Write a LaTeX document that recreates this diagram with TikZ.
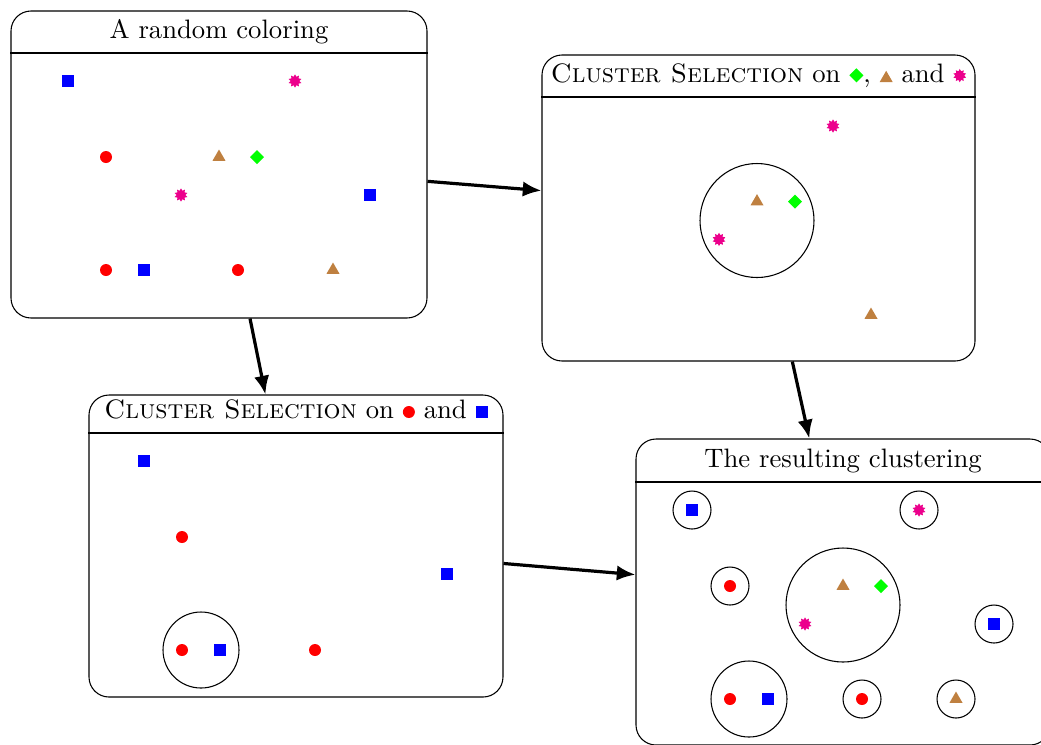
\documentclass[tikz,border=0pt]{standalone}
\usepackage{fontspec}
\setmainfont{lmroman10-regular.otf}[SmallCapsFont=lmromancaps10-regular.otf]
\usetikzlibrary{shapes.geometric,arrows.meta}
\definecolor{mkpink}{RGB}{236,0,140}
\definecolor{mkbrown}{RGB}{191,128,64}
\definecolor{mkgreen}{RGB}{0,255,0}
\tikzset{
 mk/.style={inner sep=0pt,outer sep=0pt,draw=none,anchor=center},
 dotR/.style={mk,circle,fill=red,minimum size=9pt},
 sqB/.style={mk,rectangle,fill=blue,minimum size=9pt},
 dmG/.style={mk,diamond,fill=mkgreen,minimum size=10.5pt},
 trB/.style={mk,regular polygon,regular polygon sides=3,fill=mkbrown,minimum size=11.25pt},
 stP/.style={mk,star,star points=10,star point ratio=1.5,fill=mkpink,minimum size=10pt},
 grp/.style={circle,draw,line width=0.8pt,inner sep=0pt,minimum size=#1},
 panel/.style={draw,line width=0.8pt,rounded corners=15pt,inner sep=0pt},
 ttl/.style={anchor=base,inner sep=0pt,font=\fontsize{20}{24}\selectfont},
 sepline/.style={line width=0.8pt},
 flow/.style={line width=2.4pt,-{Latex[length=14pt,width=11.5pt]}},
}
\newcommand{\icR}{\tikz[baseline=-4.5pt]\node[dotR]{};}
\newcommand{\icB}{\tikz[baseline=-4.5pt]\node[sqB]{};}
\newcommand{\icG}{\tikz[baseline=-5pt]\node[dmG]{};}
\newcommand{\icT}{\tikz[baseline=-2.8pt]\node[trB]{};}
\newcommand{\icS}{\tikz[baseline=-4.8pt]\node[stP]{};}
\begin{document}
\begin{tikzpicture}[x=0.75pt,y=-0.75pt]
\useasboundingbox (0,0) rectangle (1041,744);
% panels
\node[panel,minimum width=312pt,minimum height=230.25pt] (b1) at (219,164.5) {};
\node[panel,minimum width=324.75pt,minimum height=229.5pt] (b2) at (758.5,208) {};
\node[panel,minimum width=310.5pt,minimum height=226.5pt] (b3) at (296,546) {};
\node[panel,minimum width=310.5pt,minimum height=229.5pt] (b4) at (843,592) {};
% separators
\draw[sepline] (b1.west |- 0,53) -- (b1.east |- 0,53);
\draw[sepline] (b2.west |- 0,97) -- (b2.east |- 0,97);
\draw[sepline] (b3.west |- 0,433) -- (b3.east |- 0,433);
\draw[sepline] (b4.west |- 0,482) -- (b4.east |- 0,482);
% titles
\node[ttl] (t1) at (219,38) {A random coloring};
\node[ttl] (t2) at (758.5,82) {\textsc{Cluster Selection} on \icG, \icT{} and \icS};
\node[ttl] (t3) at (296,418) {\textsc{Cluster Selection} on \icR{} and \icB};
\node[ttl] (t4) at (843,467) {The resulting clustering};
% panel 1 markers
\node[sqB] (a1) at (68,81) {};
\node[stP] (a2) at (295,81) {};
\node[dotR] (a3) at (106,157) {};
\node[trB] (a4) at (219,157) {};
\node[dmG] (a5) at (257,157) {};
\node[stP] (a6) at (181,195) {};
\node[sqB] (a7) at (370,195) {};
\node[dotR] (a8) at (106,270) {};
\node[sqB] (a9) at (144,270) {};
\node[dotR] (a10) at (238,270) {};
\node[trB] (a11) at (333,270) {};
% panel 2 markers
\node[stP] (c1) at (833,126) {};
\node[trB] (c2) at (757,201.6) {};
\node[dmG] (c3) at (795,201.6) {};
\node[stP] (c4) at (719,239.4) {};
\node[trB] (c5) at (871,315) {};
\node[grp=85.5pt] (g1) at (757,220.5) {};
% panel 3 markers
\node[sqB] (d1) at (144,461) {};
\node[dotR] (d2) at (182,537) {};
\node[sqB] (d3) at (447,574) {};
\node[dotR] (d4) at (182,650) {};
\node[sqB] (d5) at (220,650) {};
\node[dotR] (d6) at (315,650) {};
\node[grp=57pt] (g2) at (201,650) {};
% panel 4 markers
\node[sqB] (e1) at (692,510) {};
\node[grp=28.5pt] (h1) at (692,510) {};
\node[stP] (e2) at (919,510) {};
\node[grp=28.5pt] (h2) at (919,510) {};
\node[dotR] (e3) at (730,586) {};
\node[grp=28.5pt] (h3) at (730,586) {};
\node[trB] (e4) at (843,586) {};
\node[dmG] (e5) at (881,586) {};
\node[stP] (e6) at (805,624) {};
\node[grp=85.5pt] (h4) at (843,605) {};
\node[sqB] (e7) at (994,624) {};
\node[grp=28.5pt] (h5) at (994,624) {};
\node[dotR] (e8) at (730,699) {};
\node[sqB] (e9) at (768,699) {};
\node[grp=57pt] (h6) at (749,699) {};
\node[dotR] (e10) at (862,699) {};
\node[grp=28.5pt] (h7) at (862,699) {};
\node[trB] (e11) at (956,699) {};
\node[grp=28.5pt] (h8) at (956,699) {};
% arrows
\draw[flow] (b1) -- (b2);
\draw[flow] (b1) -- (b3);
\draw[flow] (b2) -- (b4);
\draw[flow] (b3) -- (b4);
\end{tikzpicture}
\end{document}
